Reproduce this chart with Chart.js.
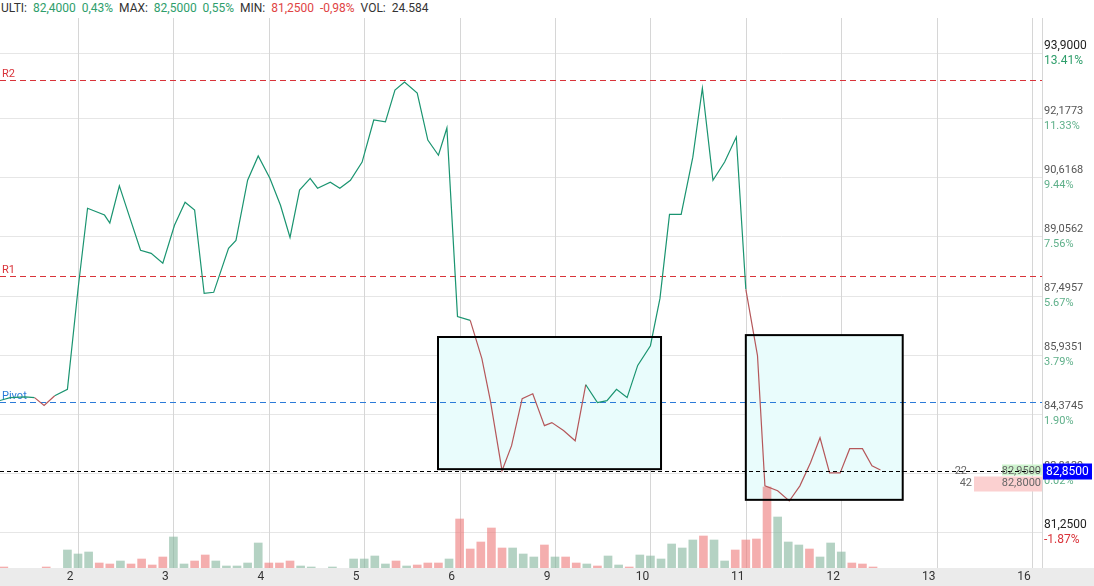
<!DOCTYPE html>
<html>
<head>
<meta charset="utf-8">
<script src="https://cdn.jsdelivr.net/npm/chart.js@4/dist/chart.umd.min.js"></script>
<style>
  body { margin: 0; background: #fff; font-family: Roboto, sans-serif; }
  #head { height: 18px; font-size: 12px; line-height: 16px; color: #333; white-space: nowrap; padding-left: 1px; }
  #head .g { color: #2e9e6b; } #head .r { color: #e04444; }
  canvas { display: block; }
</style>
</head>
<body>
<div id="head">ULTI:&nbsp; <span class="g">82,4000&nbsp; 0,43%</span>&nbsp; MAX:&nbsp; <span class="g">82,5000&nbsp; 0,55%</span>&nbsp; MIN:&nbsp; <span class="r">81,2500&nbsp; -0,98%</span>&nbsp; VOL:&nbsp; 24.584</div>
<canvas id="chart" width="1094" height="568"></canvas>
<script>
// price path (x in bar slots)
var priceX = [-7.4,-6.4,-5.0,-4.1,-3.2,-2.2,-1.0,0,0.9,2.5,3.0,3.9,4.9,5.9,6.9,8.0,9.1,10.1,11.0,11.9,
  12.8,14.2,14.9,16.0,17.0,18.1,19.1,20.0,20.9,21.9,22.6,23.8,24.7,25.7,26.8,27.9,29.0,29.9,30.8,32.0,
  33.0,34.0,34.8,35.8,37.0,38.1,38.9,40.0,40.9,41.9,42.9,44.0,44.7,45.8,46.9,47.9,49.0,49.9,50.8,51.8,
  52.8,54.0,54.9,55.8,56.9,58.0,58.9,59.9,61.0,62.1,63.0,64.1,64.8,66.0,67.1,68.1,69.1,70.0,70.9,71.9,
  72.8,74.0,74.9,75.7];
var priceY = [84.72,84.80,84.82,84.80,84.59,84.85,85.02,87.66,89.80,89.62,89.41,90.39,89.54,88.69,88.61,88.35,89.35,89.96,89.75,87.55,
  87.58,88.74,88.95,90.54,91.18,90.59,89.88,89.03,90.28,90.59,90.33,90.49,90.33,90.54,91.02,92.13,92.08,92.92,93.13,92.84,
  91.60,91.20,91.92,86.94,86.84,85.83,84.72,82.87,83.53,84.77,84.90,84.06,84.14,83.93,83.66,85.14,84.67,84.72,85.02,84.80,
  85.65,86.17,87.42,89.64,89.64,91.15,92.97,90.54,91.02,91.68,87.66,85.91,82.47,82.34,82.07,82.47,83.08,83.74,82.81,82.81,
  83.45,83.45,83.00,82.89];
var redRanges = [[-4.1,-2.2],[37.0,47.9],[63.0,76]];

// volume bars
var volX = [-7,-3,-1,0,1,2,3,4,5,6,7,8,9,10,11,12,13,14,15,16,17,18,19,20,21,22,24,26,27,28,29,30,31,32,33,34,35,
  36,37,38,39,40,41,42,43,44,45,46,47,48,49,50,51,52,53,54,55,56,57,58,59,60,61,62,63,64,65,66,67,68,69,70,71,72,73,74,75];
var volH = [1,1,18,14,16,5,4,7,4,9,3,11,31,4,7,13,7,2,2,5,25,5,5,7,2,1,1,9,9,12,4,7,2,3,5,5,9,
  49,19,26,40,20,20,14,11,23,11,11,5,4,2,12,3,1,13,12,9,24,20,28,32,28,7,18,28,29,81,51,26,23,19,11,25,16,5,4,1];
var volUp = "rrggg rrgrrrrggrrgggggrrrgggggggrgrrrg rrrrrggg rgrrgrggrggggggrgg rrrrgg grgggr".replace(/ /g,"");

// x ticks and price ticks
var xTickPos = [0,9,18,27,36,45,54,63,72,81,90];
var xTickLabels = ['2','3','4','5','6','9','10','11','12','13','16'];
var yTicks = [93.9,92.1773,90.6168,89.0562,87.4957,85.9351,84.3745,82.8139,81.25];
var yTickText = ['93,9000','92,1773','90,6168','89,0562','87,4957','85,9351','84,3745','82,8139','81,2500'];
var yPct = ['13.41%','11.33%','9.44%','7.56%','5.67%','3.79%','1.90%','0.02%','-1.87%'];

var levels = [{v:93.19,name:'R2',c:'#d9333a'},{v:88.01,name:'R1',c:'#d9333a'},{v:84.68,name:'Pivot',c:'#2b7bd9'}];
var lastPrice = 82.85;
var boxes = [[33.96,55.0,86.40,82.91],[63.0,77.8,86.45,82.10]];

function inRed(x){ return redRanges.some(function(r){ return x>=r[0] && x<=r[1]; }); }

var overlay = {
  id: 'overlay',
  beforeDatasetsDraw: function(chart){
    var c = chart.ctx, xs = chart.scales.x, ys = chart.scales.y, a = chart.chartArea;
    c.save();
    c.strokeStyle = '#e6e6e6'; c.lineWidth = 1;
    yTicks.forEach(function(v){ var y = Math.round(ys.getPixelForValue(v))+0.5; c.beginPath(); c.moveTo(a.left,y); c.lineTo(a.right,y); c.stroke(); });
    c.strokeStyle = '#d6d6d6';
    xTickPos.forEach(function(v){ var x = Math.round(xs.getPixelForValue(v))+0.5; c.beginPath(); c.moveTo(x,a.top); c.lineTo(x,a.bottom); c.stroke(); });
    boxes.forEach(function(b){
      c.fillStyle = '#e9fcfc';
      var x0 = xs.getPixelForValue(b[0]), x1 = xs.getPixelForValue(b[1]), y0 = ys.getPixelForValue(b[2]), y1 = ys.getPixelForValue(b[3]);
      c.fillRect(x0,y0,x1-x0,y1-y0);
    });
    c.setLineDash([6,4]);
    levels.forEach(function(l){
      var y = Math.round(ys.getPixelForValue(l.v))+0.5;
      c.strokeStyle = l.c; c.beginPath(); c.moveTo(a.left,y); c.lineTo(a.right,y); c.stroke();
      c.fillStyle = l.c; c.font = '11px Roboto'; c.textBaseline = 'bottom'; c.fillText(l.name, 2, y-1);
    });
    c.restore();
  },
  afterDatasetsDraw: function(chart){
    var c = chart.ctx, xs = chart.scales.x, ys = chart.scales.y, a = chart.chartArea;
    c.save();
    c.strokeStyle = '#000'; c.lineWidth = 2;
    boxes.forEach(function(b){
      var x0 = xs.getPixelForValue(b[0]), x1 = xs.getPixelForValue(b[1]), y0 = ys.getPixelForValue(b[2]), y1 = ys.getPixelForValue(b[3]);
      c.strokeRect(x0,y0,x1-x0,y1-y0);
    });
    // order book
    var ly = Math.round(ys.getPixelForValue(lastPrice))+0.5;
    c.fillStyle = '#cdf3cd'; c.fillRect(1002, ly-7, 40, 11);
    c.fillStyle = '#fbd0d0'; c.fillRect(974, ly+5, 68, 15);
    c.lineWidth = 1; c.strokeStyle = '#000'; c.setLineDash([4,3]);
    c.beginPath(); c.moveTo(a.left,ly); c.lineTo(a.right,ly); c.stroke();
    c.setLineDash([]);
    c.font = '11px Roboto'; c.textBaseline = 'middle'; c.fillStyle = '#666';
    c.textAlign = 'right';
    c.fillText('22', 967, ly); c.fillText('82,9500', 1041, ly);
    c.fillText('42', 972, ly+12); c.fillText('82,8000', 1041, ly+12);
    // right axis
    c.strokeStyle = '#d6d6d6'; c.beginPath(); c.moveTo(a.right+0.5,0); c.lineTo(a.right+0.5,a.bottom); c.stroke();
    c.textAlign = 'left';
    yTicks.forEach(function(v,i){
      var y = ys.getPixelForValue(v);
      var strong = (i===0 || i===yTicks.length-1);
      c.font = (strong ? '12px' : '11px') + ' Roboto';
      c.fillStyle = strong ? '#222' : '#555';
      c.fillText(yTickText[i], a.right+2, y-7);
      c.fillStyle = yPct[i].charAt(0)==='-' ? '#d9333a' : (strong ? '#2e9e6b' : '#5fb08a');
      c.fillText(yPct[i], a.right+2, y+8);
    });
    c.fillStyle = '#0000ff'; c.fillRect(a.right+1, ly-8, 49, 16);
    c.fillStyle = '#fff'; c.font = '12px Roboto'; c.fillText('82,8500', a.right+4, ly);
    // x axis band
    c.fillStyle = '#ebebeb'; c.fillRect(0, a.bottom, chart.width, chart.height-a.bottom);
    c.fillStyle = '#333'; c.font = '12px Roboto'; c.textAlign = 'center';
    xTickPos.forEach(function(v,i){ c.fillText(xTickLabels[i], xs.getPixelForValue(v)-8, a.bottom+9); });
    c.restore();
  }
};

new Chart(document.getElementById('chart'), {
  data: {
    datasets: [{
      type: 'line',
      yAxisID: 'y',
      data: priceX.map(function(x,i){ return {x:x, y:priceY[i]}; }),
      borderWidth: 1.2,
      borderColor: '#1a9470',
      pointRadius: 0,
      tension: 0,
      segment: { borderColor: function(ctx){ return inRed(ctx.p1.parsed.x) && inRed(ctx.p0.parsed.x) ? '#b5575a' : '#1a9470'; } }
    }, {
      type: 'bar',
      yAxisID: 'v',
      data: volX.map(function(x,i){ return {x:x, y:volH[i]}; }),
      backgroundColor: volX.map(function(x,i){ return volUp.charAt(i)==='g' ? 'rgba(130,180,155,0.6)' : 'rgba(236,120,120,0.6)'; }),
      barThickness: 8,
      order: 2
    }]
  },
  options: {
    responsive: false,
    devicePixelRatio: 1,
    animation: false,
    layout: { padding: { left: 0, top: 0, right: 52, bottom: 18 } },
    plugins: { legend: { display: false }, tooltip: { enabled: false } },
    scales: {
      x: { type: 'linear', display: false, min: -7.36, max: 90.94, offset: false },
      y: { display: false, min: 80.30, max: 94.824 },
      v: { display: false, min: 0, max: 550 }
    }
  },
  plugins: [overlay]
});
</script>
</body>
</html>
